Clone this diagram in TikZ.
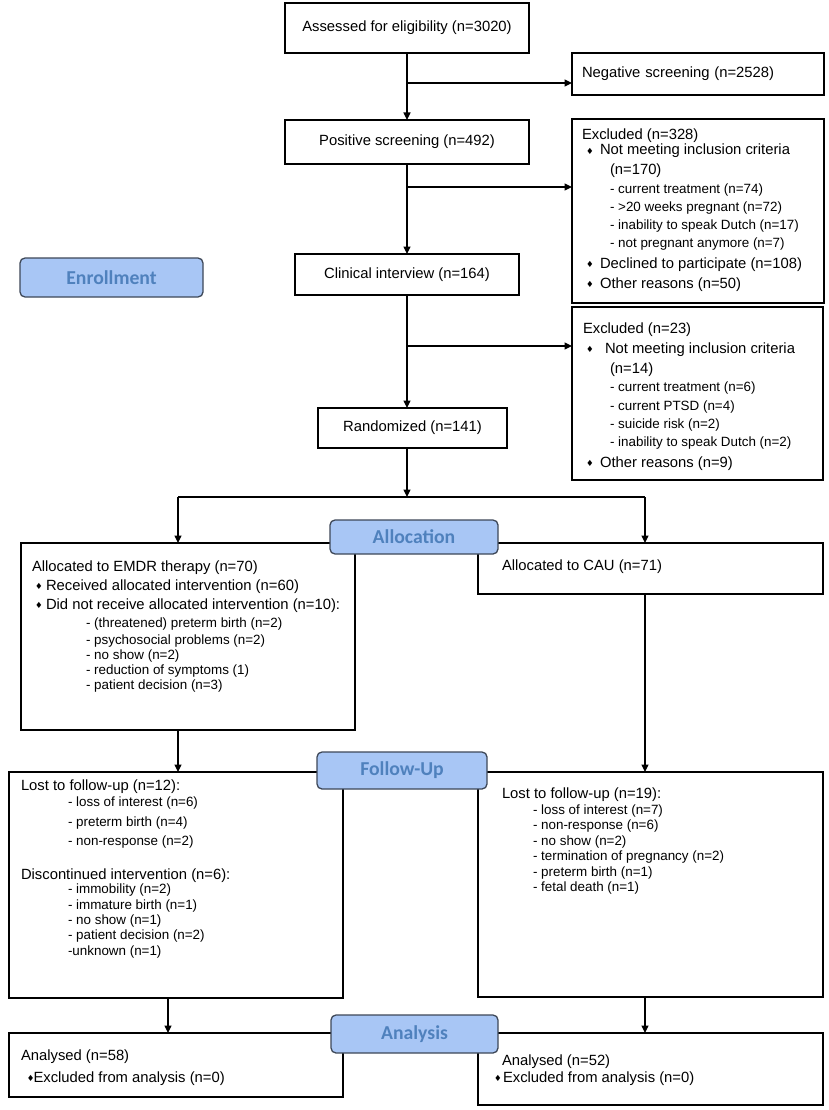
\documentclass[tikz,border=0pt]{standalone}
\usepackage{fontspec}
\setmainfont{Liberation Sans}
\newfontfamily\labfont{Carlito}
\newfontfamily\dvfont{DejaVu Sans}
\usetikzlibrary{arrows.meta}
\definecolor{labfill}{RGB}{168,198,245}
\definecolor{labborder}{RGB}{62,72,88}
\definecolor{labtext}{RGB}{79,129,189}
\newcommand\bul{\raisebox{0.3pt}{\dvfont\fontsize{8.5}{8.5}\selectfont\symbol{"2666}}}
\newcommand\bu[1]{\makebox[#1][l]{\bul}}
\newcommand\mfont{\fontsize{14.8}{17}\selectfont}
\newcommand\sfont{\fontsize{13.4}{15}\selectfont}
\tikzset{
  box/.style={draw=black, line width=1.2pt, inner sep=0pt, outer sep=0pt, anchor=north west, font=\mfont},
  lab/.style={draw=labborder, fill=labfill, line width=1.3pt, rounded corners=5pt, text=labtext,
    font=\labfont\bfseries\fontsize{19.7}{22}\selectfont, inner sep=0pt, outer sep=0pt},
  arr/.style={line width=1.2pt, -{Triangle[length=7.5pt,width=7pt]}},
  ln/.style={line width=1.2pt},
  mt/.style={anchor=base west, inner sep=0pt, outer sep=0pt, font=\mfont},
  st/.style={anchor=base west, inner sep=0pt, outer sep=0pt, font=\sfont},
}
\begin{document}
\begin{tikzpicture}[x=1pt,y=-1pt]
\fill[white] (0,0) rectangle (829,1110);
\useasboundingbox (0,0) rectangle (829,1110);

% ---------- boxes ----------
\node[box, minimum width=244pt, minimum height=50pt] (assess) at (285,3) {Assessed for eligibility (n=3020)};
\node[box, minimum width=252pt, minimum height=42pt, text width=232pt, inner xsep=10pt, align=left] (neg) at (572,53) {Negative screening (n=2528)};
\node[box, minimum width=244pt, minimum height=44pt] (pos) at (285,120) {Positive screening (n=492)};
\node[box, minimum width=252pt, minimum height=184pt] (exc1) at (572,119) {};
\node[box, minimum width=224pt, minimum height=41pt] (clin) at (295,254) {Clinical interview (n=164)};
\node[box, minimum width=251pt, minimum height=173pt] (exc2) at (572,307) {};
\node[box, minimum width=189pt, minimum height=40pt] (rand) at (318,408) {Randomized (n=141)};
\node[box, minimum width=334pt, minimum height=187pt] (emdr) at (21,543) {};
\node[box, minimum width=345pt, minimum height=51pt] (cau) at (478,543) {};
\node[box, minimum width=334pt, minimum height=226pt] (fl) at (9,772) {};
\node[box, minimum width=345pt, minimum height=225pt] (fr) at (478,772) {};
\node[box, minimum width=334pt, minimum height=64pt] (al) at (9,1033) {};
\node[box, minimum width=345pt, minimum height=72pt] (ar) at (478,1033) {};

% ---------- texts: excluded 1 ----------
\node[mt] (e1a) at (582,140) {Excluded (n=328)};
\node[mt] (e1b) at (586,155) {\bu{14pt}Not meeting inclusion criteria};
\node[mt] (e1c) at (610,175) {(n=170)};
\node[st] (e1d) at (610,193.5) {- current treatment (n=74)};
\node[st] (e1e) at (610,211.5) {- >20 weeks pregnant (n=72)};
\node[st] (e1f) at (610,229.5) {- inability to speak Dutch (n=17)};
\node[st] (e1g) at (610,247.5) {- not pregnant anymore (n=7)};
\node[mt] (e1h) at (586,268) {\bu{14pt}Declined to participate (n=108)};
\node[mt] (e1i) at (586,288) {\bu{14pt}Other reasons (n=50)};

% ---------- texts: excluded 2 ----------
\node[mt] (e2a) at (583,333) {Excluded (n=23)};
\node[mt] (e2b) at (586,353) {\bu{19pt}Not meeting inclusion criteria};
\node[mt] (e2c) at (610,373) {(n=14)};
\node[st] (e2d) at (610,391.5) {- current treatment (n=6)};
\node[st] (e2e) at (610,410.5) {- current PTSD (n=4)};
\node[st] (e2f) at (610,428.5) {- suicide risk (n=2)};
\node[st] (e2g) at (610,446.5) {- inability to speak Dutch (n=2)};
\node[mt] (e2h) at (586,467) {\bu{14pt}Other reasons (n=9)};

% ---------- texts: EMDR ----------
\node[mt] (m1) at (32,571) {Allocated to EMDR therapy (n=70)};
\node[mt] (m2) at (35,590) {\bu{11pt}Received allocated intervention (n=60)};
\node[mt] (m3) at (35,609) {\bu{11pt}Did not receive allocated intervention (n=10):};
\node[st] (m4) at (86,627.5) {- (threatened) preterm birth (n=2)};
\node[st] (m5) at (86,644.5) {- psychosocial problems (n=2)};
\node[st] (m6) at (86,659.5) {- no show (n=2)};
\node[st] (m7) at (86,674.5) {- reduction of symptoms (1)};
\node[st] (m8) at (86,689.5) {- patient decision (n=3)};

% ---------- texts: CAU ----------
\node[mt] (c1) at (502,570) {Allocated to CAU (n=71)};

% ---------- texts: follow-up left ----------
\node[mt] (f1) at (21,790) {Lost to follow-up (n=12):};
\node[st] (f2) at (68,806.5) {- loss of interest (n=6)};
\node[st] (f3) at (68,826) {- preterm birth (n=4)};
\node[st] (f4) at (68,845) {- non-response (n=2)};
\node[mt] (f5) at (21,879) {Discontinued intervention (n=6):};
\node[st] (f6) at (68,893) {- immobility (n=2)};
\node[st] (f7) at (68,909) {- immature birth (n=1)};
\node[st] (f8) at (68,924.5) {- no show (n=1)};
\node[st] (f9) at (68,939.5) {- patient decision (n=2)};
\node[st] (f10) at (68,955) {-unknown (n=1)};

% ---------- texts: follow-up right ----------
\node[mt] (g1) at (502,798) {Lost to follow-up (n=19):};
\node[st] (g2) at (533,814.5) {- loss of interest (n=7)};
\node[st] (g3) at (533,829.9) {- non-response (n=6)};
\node[st] (g4) at (533,845.3) {- no show (n=2)};
\node[st] (g5) at (533,860.7) {- termination of pregnancy (n=2)};
\node[st] (g6) at (533,876.1) {- preterm birth (n=1)};
\node[st] (g7) at (533,891.5) {- fetal death (n=1)};

% ---------- texts: analysis ----------
\node[mt] (a1) at (21,1060) {Analysed (n=58)};
\node[mt] (a2) at (27,1082) {\bu{6.5pt}Excluded from analysis (n=0)};
\node[mt] (b1) at (502,1065) {Analysed (n=52)};
\node[mt] (b2) at (494,1082) {\bu{9pt}Excluded from analysis (n=0)};

% ---------- connectors ----------
\draw[arr] (assess.south) -- (pos.north);
\coordinate (br1) at (407,83);
\draw[arr] (br1) -- (br1 -| neg.west);
\draw[arr] (pos.south) -- (clin.north);
\coordinate (br2) at (407,187);
\draw[arr] (br2) -- (br2 -| exc1.west);
\draw[arr] (clin.south) -- (clin.south |- rand.north);
\coordinate (br3) at (407,346);
\draw[arr] (br3) -- (br3 -| exc2.west);
\coordinate (split) at (407,497);
\draw[arr] (rand.south -| split) -- (split);
\coordinate (sl) at (178,497);
\coordinate (sr) at (645,497);
\draw[ln] (sl) -- (sr);
\draw[arr] (sl) -- (sl |- emdr.north);
\draw[arr] (sr) -- (sr |- cau.north);
\draw[arr] (emdr.south -| sl) -- (sl |- fl.north);
\draw[arr] (cau.south -| sr) -- (sr |- fr.north);
\coordinate (xl) at (168,1010);
\draw[arr] (fl.south -| xl) -- (xl |- al.north);
\draw[arr] (fr.south -| sr) -- (sr |- ar.north);

% ---------- phase labels ----------
\node[lab, minimum width=183pt, minimum height=39pt] (enr) at (111.5,277.5) {Enrollment};
\node[lab, minimum width=168pt, minimum height=34pt] (alloc) at (414,537) {Allocation};
\node[lab, minimum width=170pt, minimum height=37pt] (fup) at (402,770.5) {Follow-Up};
\node[lab, minimum width=167pt, minimum height=38pt] (anal) at (414.5,1034) {Analysis};
\end{tikzpicture}
\end{document}
